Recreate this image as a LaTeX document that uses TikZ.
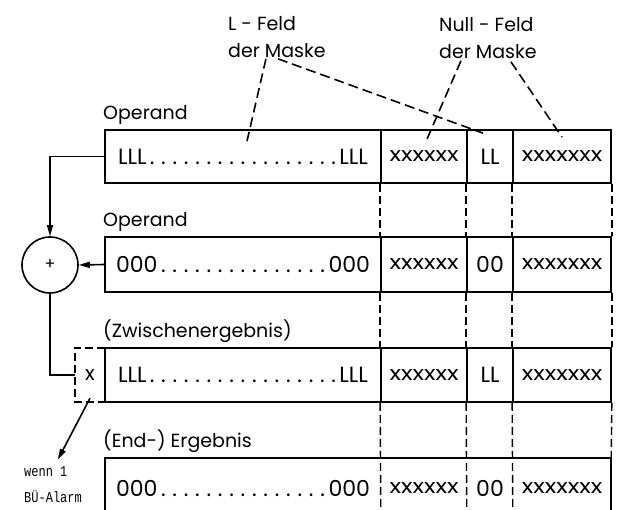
\documentclass[tikz,border=0pt]{standalone}
\usepackage{fontspec}
\setmainfont{Poppins}
\newfontfamily\alarmfont{Liberation Mono}
\usetikzlibrary{arrows.meta,calc}
\newcommand\fieldtext[4]{\hbox to #1{#2\xleaders\hbox to #4{\hss.\hss}\hfill #3}}
\newcommand\wideX[1]{\scalebox{1.2}[1]{#1}}
\begin{document}
\begin{tikzpicture}[x=1pt,y=-1pt,
  every node/.style={font=\fontsize{19}{27}\selectfont},
  fld/.style={draw, line width=1.7pt, inner sep=0pt},
  nofld/.style={inner sep=0pt},
  big/.style={font=\fontsize{22}{24}\selectfont},
  lbl/.style={inner sep=0pt},
  rowline/.style={line width=1.7pt},
  gapdash/.style={line width=1.4pt, dash pattern=on 8pt off 4pt},
  leader/.style={line width=1.6pt, dash pattern=on 10pt off 5pt},
  conn/.style={line width=1.6pt},
  arr/.style={line width=1.6pt, -{Triangle[length=11pt,width=6pt]}},
  xs/.style={font=\fontsize{20}{22}\selectfont},
  alarm/.style={inner sep=0pt, anchor=west, font=\alarmfont\fontsize{15}{17}\selectfont}
]
\useasboundingbox (0,0) rectangle (617,510);

% Row 1
\node[fld, big, minimum width=276pt, minimum height=53pt] (r1a) at (243,156.5) {\fieldtext{250pt}{LLL}{LLL}{11.3pt}};
\node[fld, xs, minimum width=86pt, minimum height=53pt] (r1b) at (424,156.5) {\wideX{xxxxxx}};
\node[fld, big, minimum width=46pt, minimum height=53pt] (r1c) at (490,156.5) {LL};
\node[fld, xs, minimum width=98pt, minimum height=53pt] (r1d) at (562,156.5) {\wideX{xxxxxxx}};
% Row 2
\node[fld, big, minimum width=276pt, minimum height=55pt] (r2a) at (243,264.5) {\fieldtext{254pt}{000}{000}{11pt}};
\node[fld, xs, minimum width=86pt, minimum height=55pt] (r2b) at (424,264.5) {\wideX{xxxxxx}};
\node[fld, big, minimum width=46pt, minimum height=55pt] (r2c) at (490,264.5) {00};
\node[fld, xs, minimum width=98pt, minimum height=55pt] (r2d) at (562,264.5) {\wideX{xxxxxxx}};
% Row 3
\node[fld, big, minimum width=276pt, minimum height=54pt] (r3a) at (243,375) {\fieldtext{250pt}{LLL}{LLL}{11.3pt}};
\node[fld, xs, minimum width=86pt, minimum height=54pt] (r3b) at (424,375) {\wideX{xxxxxx}};
\node[fld, big, minimum width=46pt, minimum height=54pt] (r3c) at (490,375) {LL};
\node[fld, xs, minimum width=98pt, minimum height=54pt] (r3d) at (562,375) {\wideX{xxxxxxx}};
% Row 4 (open at the bottom)
\node[nofld, big, minimum width=276pt, minimum height=60pt] (r4a) at (243,488) {\fieldtext{254pt}{000}{000}{11pt}};
\node[nofld, xs, minimum width=86pt, minimum height=60pt] (r4b) at (424,488) {\wideX{xxxxxx}};
\node[nofld, big, minimum width=46pt, minimum height=60pt] (r4c) at (490,488) {00};
\node[nofld, xs, minimum width=98pt, minimum height=60pt] (r4d) at (562,488) {\wideX{xxxxxxx}};
\draw[rowline] (r4a.south west) -- (r4a.north west) -- (r4d.north east) -- (r4d.south east);

% row labels
\node[lbl, anchor=base west] (l1) at (103,120) {Operand};
\node[lbl, anchor=base west] (l2) at (103,227) {Operand};
\node[lbl, anchor=base west] (l3) at (103,337) {(Zwischenergebnis)};
\node[lbl, anchor=base west] (l4) at (103,447) {(End-) Ergebnis};

% dashed continuations between rows
\foreach \c/\s in {b/west, c/west, d/west, d/east}{
  \draw[gapdash] (r1\c.south \s) -- (r2\c.north \s);
  \draw[gapdash] (r2\c.south \s) -- (r3\c.north \s);
}
\foreach \c in {b, c, d}{
  \draw[gapdash] (r3\c.south west) -- (r4\c.south west);
}
\draw[gapdash] (r3d.south east) -- (r4d.north east);

% top annotations
\node[lbl, align=left, anchor=west] (lf) at (228,37) {L - Feld\\der Maske};
\node[lbl, align=left, anchor=west] (nf) at (439,38) {Null - Feld\\der Maske};
\draw[leader] ($(lf.south)+(-11,1)$) -- ($(r1a.north)+(4,12)$);
\draw[leader] ($(lf.south)+(1,1)$) -- ($(r1c.north)+(-7,4)$);
\draw[leader] ($(nf.south)+(-27,2)$) -- ($(r1b.north)+(3,10)$);
\draw[leader] ($(nf.south)+(23,3)$) -- ($(r1d.north)+(0,8)$);

% adder
\node[draw, circle, line width=1.6pt, minimum size=56pt, inner sep=0pt, font=\fontsize{16}{16}\selectfont] (plus) at (50,265) {+};
\draw[arr] (r1a.west) -| (plus.north);
\draw[arr] (r2a.west) -- (plus.east);

% overflow bit
\node[nofld, xs, minimum width=30pt, minimum height=54pt] (xbox) at (90,375) {x};
\draw[gapdash, line width=1.6pt] (xbox.north east) -- (xbox.north west) -- (xbox.south west) -- (xbox.south east);
\draw[conn] (plus.south) |- (xbox.west);

% alarm note
\node[alarm] (al1) at (24,472) {\scalebox{0.8}[1]{wenn 1}};
\node[alarm] (al2) at (24,497) {\scalebox{0.8}[1]{BÜ-Alarm}};
\draw[arr] ($(xbox.south)+(0,-4)$) -- ($(al1.north)+(12,-7)$);
\end{tikzpicture}
\end{document}
